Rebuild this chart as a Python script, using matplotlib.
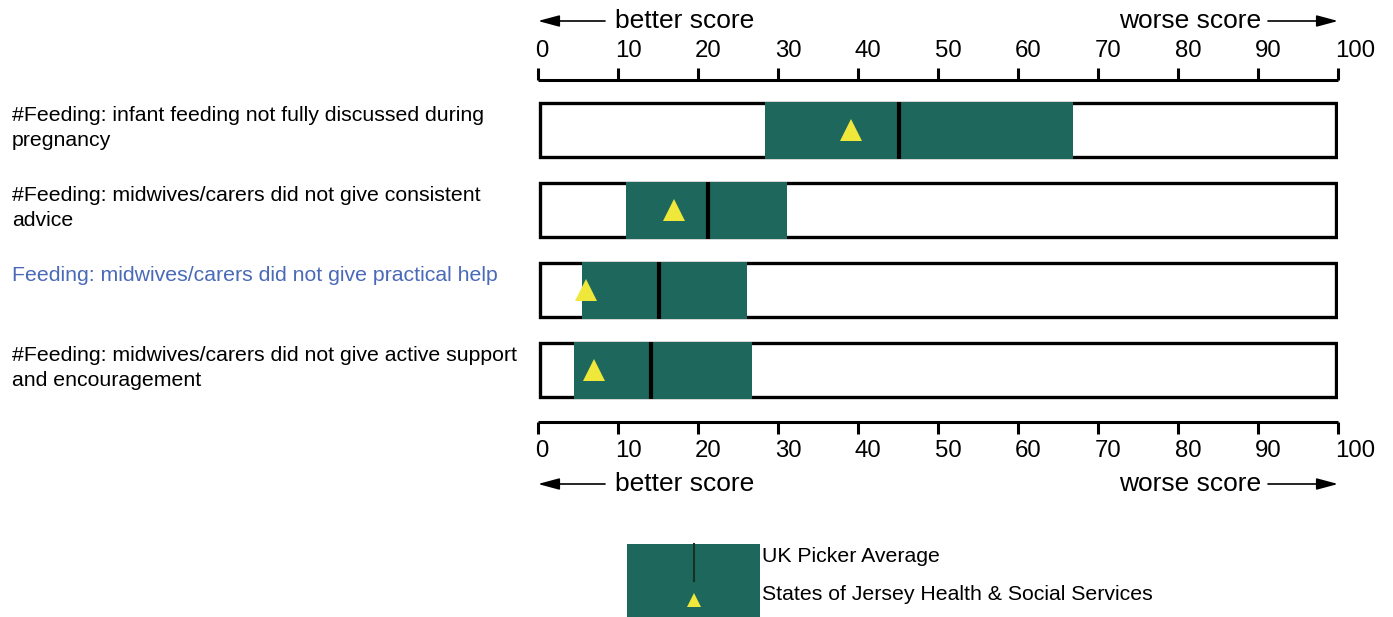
import matplotlib.pyplot as plt
from matplotlib.patches import Rectangle

plt.rcParams['font.family'] = ['Liberation Sans', 'DejaVu Sans']

# ======================
# Data
# ======================
labels = [
    "#Feeding: infant feeding not fully discussed during\npregnancy",
    "#Feeding: midwives/carers did not give consistent\nadvice",
    "Feeding: midwives/carers did not give practical help",
    "#Feeding: midwives/carers did not give active support\nand encouragement",
]
label_colors = ["black", "black", "#4a69b8", "black"]
range_low = [28.4, 11.0, 5.5, 4.5]
range_high = [66.9, 31.1, 26.1, 26.8]
uk_average = [45.1, 21.2, 15.1, 14.1]
jersey_score = [39.1, 17.0, 6.0, 7.0]
ticks = [0, 10, 20, 30, 40, 50, 60, 70, 80, 90, 100]

GREEN = "#1e675c"
YELLOW = "#efe73a"

W, H = 1393, 617
fig = plt.figure(figsize=(W / 100, H / 100), dpi=100)

# axes: x 0..100 maps to pixel 538..1338, y in pixels from top
x0_px, x1_px = 538, 1338
ax = fig.add_axes([x0_px / W, 0, (x1_px - x0_px) / W, 1])
ax.set_xlim(0, 100)
ax.set_ylim(H, 0)
ax.axis("off")

px = 100 / (x1_px - x0_px)  # data units per pixel in x

# ======================
# Rows
# ======================
row_top = [103, 183, 263, 343]
row_h = 54
for i in range(len(labels)):
    top = row_top[i]
    ax.add_patch(Rectangle((0.2, top), 99.8 - 0.2, row_h, facecolor="white",
                           edgecolor="black", lw=2.4, zorder=1))
    ax.add_patch(Rectangle((range_low[i], top - 1.5), range_high[i] - range_low[i], row_h + 3,
                           facecolor=GREEN, edgecolor="none", zorder=2))
    ax.plot([uk_average[i], uk_average[i]], [top - 1.5, top + row_h + 1.5],
            color="black", lw=3, solid_capstyle="butt", zorder=3)
    ax.plot(jersey_score[i], top + 27, marker="^", color=YELLOW, markersize=16,
            markeredgewidth=0, zorder=4)
    fig.text(12 / W, 1 - (top + 3) / H, labels[i], color=label_colors[i],
             fontsize=15.3, ha="left", va="top", linespacing=1.4)

# ======================
# Scales
# ======================
arrow_style = "-|>,head_length=1.3,head_width=0.35"

def draw_scale(y_line, tick_dir, label_y, text_y):
    ax.plot([0, 100], [y_line, y_line], color="black", lw=2.2, solid_capstyle="butt",
            clip_on=False)
    for t in ticks:
        ax.plot([t, t], [y_line, y_line + tick_dir * 12], color="black", lw=2.2,
                solid_capstyle="butt", clip_on=False)
        ax.text(t - 0.4, label_y, str(t), fontsize=17.3, ha="left", va="center")
    ax.annotate("", xy=(0, text_y), xytext=(67 * px, text_y),
                arrowprops=dict(arrowstyle=arrow_style, color="black", lw=1.2,
                                shrinkA=0, shrinkB=0))
    ax.text(77 * px, text_y, "better score", fontsize=19, ha="left", va="center")
    ax.annotate("", xy=(100, text_y), xytext=(100 - 70 * px, text_y),
                arrowprops=dict(arrowstyle=arrow_style, color="black", lw=1.2,
                                shrinkA=0, shrinkB=0))
    ax.text(100 - 77 * px, text_y, "worse score", fontsize=19, ha="right", va="center")

draw_scale(80, -1, 51, 21)
draw_scale(422, 1, 451, 484)

# ======================
# Legend
# ======================
lx0, lx1 = (627 - x0_px) * px, (760 - x0_px) * px
ax.add_patch(Rectangle((lx0, 544), lx1 - lx0, 73, facecolor=GREEN, edgecolor="none",
                       clip_on=False))
lmid = (694 - x0_px) * px
ax.plot([lmid, lmid], [544, 581], color="#1a2e2a", lw=1.5, clip_on=False)
ax.plot(lmid, 600, marker="^", color=YELLOW, markersize=10, markeredgewidth=0,
        clip_on=False)
ax.text((762 - x0_px) * px, 557, "UK Picker Average", fontsize=15.3, ha="left", va="center")
ax.text((762 - x0_px) * px, 594, "States of Jersey Health & Social Services", fontsize=15.3,
        ha="left", va="center")

fig.savefig("out.png", dpi=100)
